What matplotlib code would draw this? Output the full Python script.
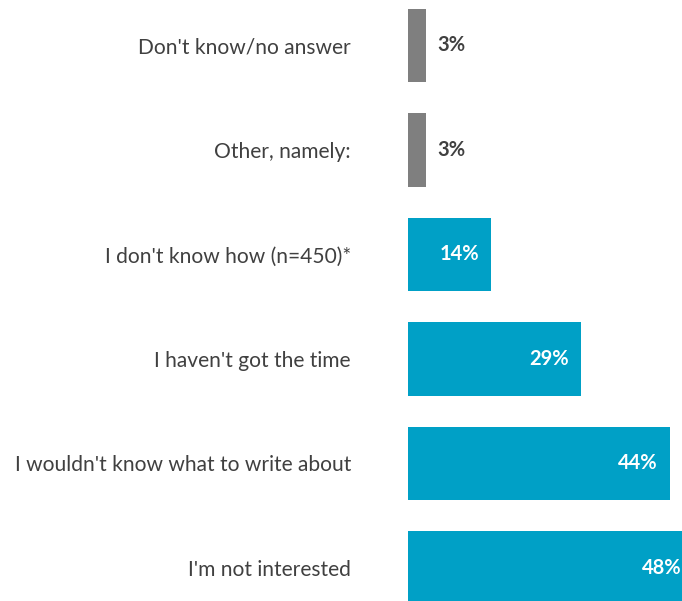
import matplotlib
matplotlib.use("Agg")
import matplotlib.pyplot as plt

# Reasons for not writing, share of respondents (%)
categories = [
    "Don't know/no answer",
    "Other, namely:",
    "I don't know how (n=450)*",
    "I haven't got the time",
    "I wouldn't know what to write about",
    "I'm not interested",
]
values = [3, 3, 14, 29, 44, 48]
bar_colors = ["#7f7f7f", "#7f7f7f", "#00a0c6", "#00a0c6", "#00a0c6", "#00a0c6"]

plt.rcParams["font.family"] = ["Lato", "DejaVu Sans"]

W, H = 682, 601
fig = plt.figure(figsize=(W / 100, H / 100), dpi=100)
ax = fig.add_axes([408 / W, 0, 1 - 408 / W, 1])

y = list(range(len(categories)))
ax.barh(y, values, height=0.70, color=bar_colors, zorder=2)

ax.set_xlim(0, 274 / 5.95)
ax.set_ylim(5.316, -0.435)

for i, (v, c) in enumerate(zip(values, bar_colors)):
    inside = c != "#7f7f7f"
    if inside:
        ax.annotate(f"{v}%", xy=(v, i), xytext=(-8.5, 0), textcoords="offset points",
                    ha="right", va="center", color="white", fontsize=14.5,
                    fontweight="bold", annotation_clip=False)
    else:
        ax.annotate(f"{v}%", xy=(v, i), xytext=(8.5, 0), textcoords="offset points",
                    ha="left", va="center", color="#404040", fontsize=14.5,
                    fontweight="bold")

ax.set_yticks(y)
ax.set_yticklabels(categories, fontsize=15.1, color="#404040")
ax.tick_params(axis="y", length=0, pad=57 * 0.72)
ax.set_xticks([])
for s in ax.spines.values():
    s.set_visible(False)

fig.savefig("out.png", dpi=100)
